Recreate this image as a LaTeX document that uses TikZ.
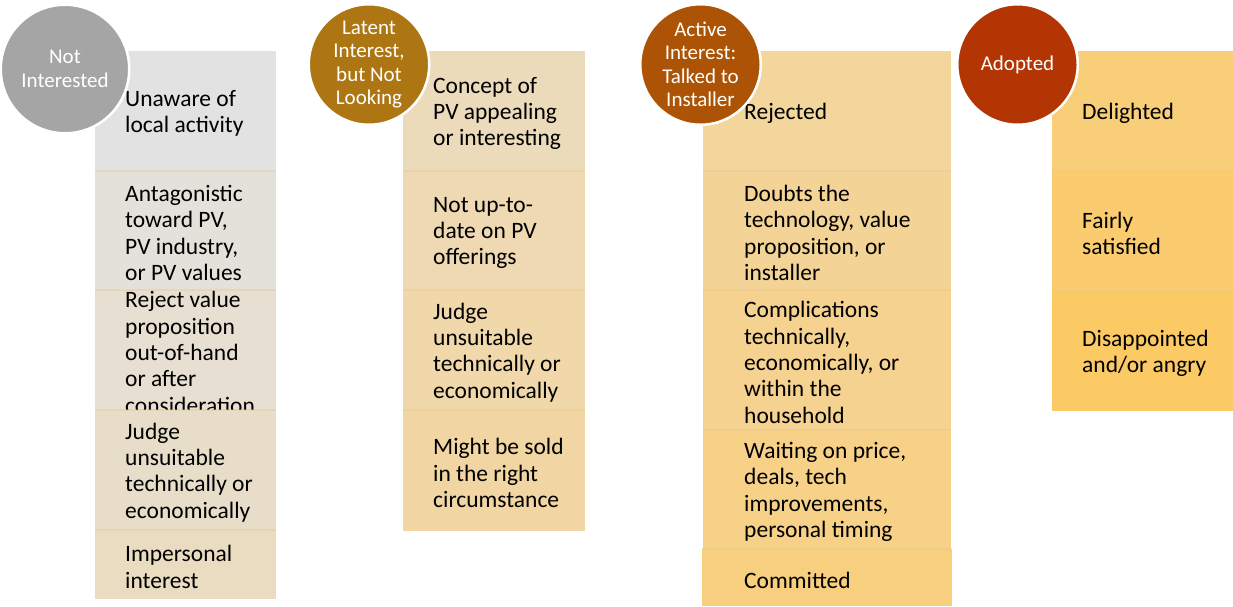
\documentclass[tikz,border=0pt]{standalone}
\usepackage{fontspec}
\setmainfont{Carlito}
\usepackage{tikz}
\usetikzlibrary{positioning}
\definecolor{nicircle}{HTML}{A5A5A5}
\definecolor{latentcircle}{HTML}{AD7612}
\definecolor{activecircle}{HTML}{AC5305}
\definecolor{adoptedcircle}{HTML}{B23503}
% cell shades, grey drifting to gold
\definecolor{niA}{HTML}{E2E2E2}
\definecolor{niB}{HTML}{E4E1DA}
\definecolor{niC}{HTML}{E6DFD2}
\definecolor{niD}{HTML}{E8DDC9}
\definecolor{niE}{HTML}{EADCC0}
\definecolor{liA}{HTML}{ECDBBA}
\definecolor{liB}{HTML}{EED9B2}
\definecolor{liC}{HTML}{F0D8AA}
\definecolor{liD}{HTML}{F1D6A3}
\definecolor{aiA}{HTML}{F2D69C}
\definecolor{aiB}{HTML}{F3D496}
\definecolor{aiC}{HTML}{F5D28F}
\definecolor{aiD}{HTML}{F6D187}
\definecolor{aiE}{HTML}{F8CF7F}
\definecolor{adA}{HTML}{F9CE78}
\definecolor{adB}{HTML}{FBCC6F}
\definecolor{adC}{HTML}{FCCA65}
\definecolor{seam}{HTML}{E8C48A}

\begin{document}
\begin{tikzpicture}[
    x=1pt, y=-1pt,
    cell/.style={rectangle, anchor=north west, inner sep=0pt, minimum width=181pt},
    entry/.style={anchor=west, align=left, inner sep=0pt, text=black, yshift=-1.5pt, font=\fontsize{23.5}{26.3}\selectfont},
    stage/.style={circle, draw=white, line width=2.5pt, inner sep=0pt, minimum size=120.5pt, align=center, text=white, font=\fontsize{21}{23.5}\selectfont},
    sep/.style={line width=1.2pt, draw=seam, opacity=0.35},
]
    \useasboundingbox (0,0) rectangle (1233,606);

    % Not interested
    \node[cell, fill=niA, minimum height=120pt] (niA) at (95,51) {};
    \node[entry] (niA_txt) at (125,112) {Unaware of\\local activity};
    \node[cell, fill=niB, minimum height=119pt] (niB) at (95,171) {};
    \node[entry] (niB_txt) at (125,231.5) {Antagonistic\\toward PV,\\PV industry,\\or PV values};
    \node[cell, fill=niC, minimum height=120pt] (niC) at (95,290) {};
    \node[entry] (niC_txt) at (125,351) {Reject value\\proposition\\out-of-hand\\or after\\consideration};
    \node[cell, fill=niD, minimum height=120pt] (niD) at (95,410) {};
    \node[entry] (niD_txt) at (125,471) {Judge\\unsuitable\\technically or\\economically};
    \node[cell, fill=niE, minimum height=69pt] (niE) at (95,530) {};
    \node[entry] (niE_txt) at (125,565.5) {Impersonal\\interest};

    % Latent interest
    \node[cell, fill=liA, minimum width=182pt, minimum height=120pt] (liA) at (403,51) {};
    \node[entry] (liA_txt) at (433,112) {Concept of\\PV appealing\\or interesting};
    \node[cell, fill=liB, minimum width=182pt, minimum height=119pt] (liB) at (403,171) {};
    \node[entry] (liB_txt) at (433,231.5) {Not up-to-\\date on PV\\offerings};
    \node[cell, fill=liC, minimum width=182pt, minimum height=120pt] (liC) at (403,290) {};
    \node[entry] (liC_txt) at (433,351) {Judge\\unsuitable\\technically or\\economically};
    \node[cell, fill=liD, minimum width=182pt, minimum height=121pt] (liD) at (403,410) {};
    \node[entry] (liD_txt) at (433,471.5) {Might be sold\\in the right\\circumstance};

    % Active interest
    \node[cell, fill=aiA, minimum width=248pt, minimum height=120pt] (aiA) at (703,51) {};
    \node[entry] (aiA_txt) at (744,112) {Rejected};
    \node[cell, fill=aiB, minimum width=248pt, minimum height=119pt] (aiB) at (703,171) {};
    \node[entry] (aiB_txt) at (744,231.5) {Doubts the\\technology, value\\proposition, or\\installer};
    \node[cell, fill=aiC, minimum width=248pt, minimum height=140pt] (aiC) at (703,290) {};
    \node[entry] (aiC_txt) at (744,361) {Complications\\technically,\\economically, or\\within the\\household};
    \node[cell, fill=aiD, minimum width=248pt, minimum height=119pt] (aiD) at (703,430) {};
    \node[entry] (aiD_txt) at (744,490.5) {Waiting on price,\\deals, tech\\improvements,\\personal timing};
    \node[cell, fill=aiE, minimum width=250pt, minimum height=57pt] (aiE) at (702,549) {};
    \node[entry] (aiE_txt) at (744,578.5) {Committed};

    % Adopted
    \node[cell, fill=adA, minimum height=120pt] (adA) at (1052,51) {};
    \node[entry] (adA_txt) at (1082,112) {Delighted};
    \node[cell, fill=adB, minimum height=120pt] (adB) at (1052,171) {};
    \node[entry] (adB_txt) at (1082,232) {Fairly\\satisfied};
    \node[cell, fill=adC, minimum height=120pt] (adC) at (1052,291) {};
    \node[entry] (adC_txt) at (1082,352) {Disappointed\\and/or angry};

    % thin seams between stacked cells
    \foreach \c in {niB,niC,niD,niE,liB,liC,liD,aiB,aiC,aiD,aiE,adB,adC}
        \draw[sep] (\c.north west) -- (\c.north east);

    % Stage badges
    \node[stage, fill=nicircle, minimum size=128.5pt] (notint) at (65,69) {Not\\Interested};
    \node[stage, fill=latentcircle] (latent) at (369,64.5) {Latent\\Interest,\\but Not\\Looking};
    \node[stage, fill=activecircle] (active) at (700.5,64.5) {Active\\Interest:\\Talked to\\Installer};
    \node[stage, fill=adoptedcircle] (adopted) at (1017.5,64.5) {Adopted};
\end{tikzpicture}
\end{document}
